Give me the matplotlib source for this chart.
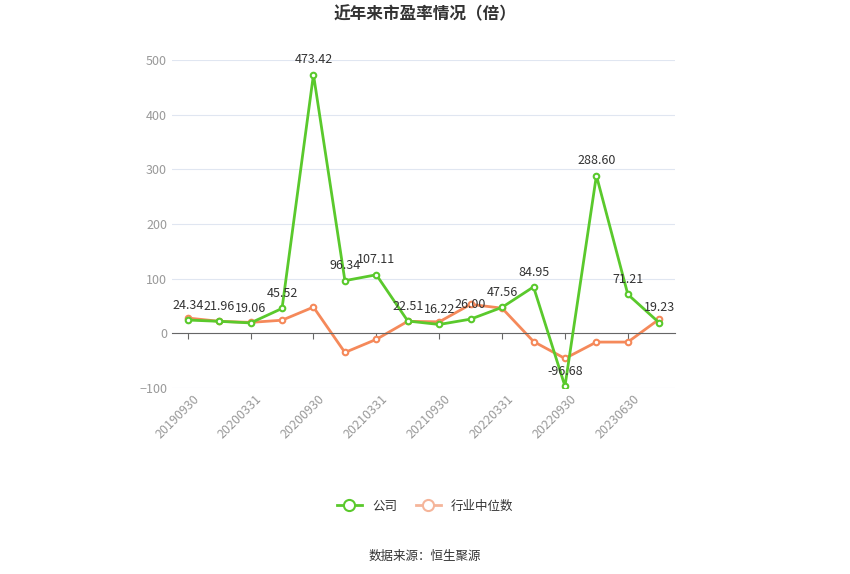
import matplotlib
matplotlib.use("Agg")
import matplotlib.pyplot as plt

plt.rcParams["font.family"] = ["Noto Sans CJK SC"]

dates = ["20190930","20191231","20200331","20200630","20200930","20201231","20210331","20210630",
         "20210930","20211231","20220331","20220630","20220930","20221231","20230630","20230930"]
company = [24.34,21.96,19.06,45.52,473.42,96.34,107.11,22.51,16.22,26.00,47.56,84.95,-96.68,288.60,71.21,19.23]
industry = [28,22,20,24,48,-35,-11,22,21,53,46,-15,-46,-16,-16,26]
yticks = [-100,0,100,200,300,400,500]

fig = plt.figure(figsize=(8.5,5.74), dpi=100)
ax = fig.add_axes([172/850, 1-388/574, (675-172)/850, (388-60)/574])
x = list(range(len(dates)))
ax.plot(x, company, color="#5ac92c", lw=2, marker="o", ms=4, mfc="white", mew=1.5, zorder=3)
ax.plot(x, industry, color="#f5895a", lw=2, marker="o", ms=4, mfc="white", mew=1.5, zorder=2)
for i, v in enumerate(company):
    ax.annotate(f"{v:.2f}", (i, v), xytext=(0, 6), textcoords="offset points",
                ha="center", va="bottom", fontsize=9, color="#333333")
ax.set_xlim(-0.5, len(dates)-0.5)
ax.set_ylim(-100, 500)
ax.set_yticks(yticks)
ax.set_xticks(x[::2])
ax.set_xticklabels([])
for i in x[::2]:
    ax.text(i + 0.15, -108, dates[i], rotation=45, ha="right", va="top", rotation_mode="anchor",
            fontsize=9, color="#999999", clip_on=False)
ax.tick_params(axis="y", length=0, labelsize=9, labelcolor="#999999")
ax.tick_params(axis="x", length=4, color="#666666")
ax.grid(axis="y", color="#e0e6f1", lw=0.8)
ax.set_axisbelow(True)
for s in ["top","right","left"]:
    ax.spines[s].set_visible(False)
ax.spines["bottom"].set_position(("data", 0))
ax.spines["bottom"].set_color("#666666")
fig.text(0.5, 1-14/574, "近年来市盈率情况（倍）", ha="center", va="center", fontsize=12, fontweight="bold", color="#333333")
fig.text(0.5, 1-556/574, "数据来源：恒生聚源", ha="center", va="center", fontsize=9, color="#333333")
from matplotlib.lines import Line2D
h = [Line2D([],[],color="#5ac92c",lw=2,marker="o",ms=8,mfc="white",mew=1.5),
     Line2D([],[],color="#f5b59a",lw=2,marker="o",ms=8,mfc="white",mew=1.5)]
fig.legend(h, ["公司","行业中位数"], loc="center", bbox_to_anchor=(0.5, 1-506/574), ncol=2,
           frameon=False, fontsize=9, labelcolor="#333333", handlelength=2, columnspacing=1.5)
fig.savefig("out.png", dpi=100)
